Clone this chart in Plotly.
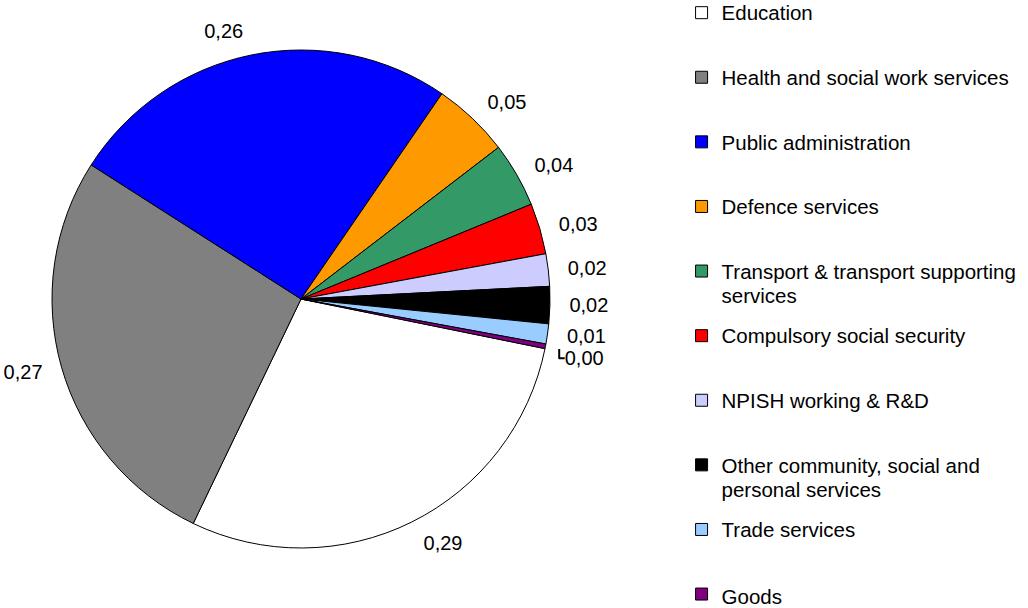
import plotly.graph_objects as go

# ---- data ----
categories = [
    "Education",
    "Health and social work services",
    "Public administration",
    "Defence services",
    "Transport & transport supporting services",
    "Compulsory social security",
    "NPISH working & R&D",
    "Other community, social and personal services",
    "Trade services",
    "Goods",
]
legend_lines = [
    ["Education"],
    ["Health and social work services"],
    ["Public administration"],
    ["Defence services"],
    ["Transport & transport supporting", "services"],
    ["Compulsory social security"],
    ["NPISH working & R&D"],
    ["Other community, social and", "personal services"],
    ["Trade services"],
    ["Goods"],
]
shares = [0.289, 0.269, 0.255, 0.050, 0.042, 0.033, 0.021, 0.024, 0.013, 0.003]
colors = ["#FFFFFF", "#808080", "#0000FF", "#FF9900", "#339966",
          "#FF0000", "#CCCCFF", "#000000", "#99CCFF", "#800080"]

FONT = "Liberation Sans, Arial, sans-serif"
TEXT_PX = 20
LEG_TEXT_PX = 20.5
ROW_PITCH = 64.6                     # distance between legend rows in px
SLOTS = 5                            # legend text slots per row (text on slots 1 and 3)
LEG_FONT = (ROW_PITCH - 3) / (1.3 * SLOTS)   # legend line height = 1.3 * this

W, H = 1028, 608
CX, CY, R = 301, 299, 249   # pie centre / radius in px
R_LAB = R + 14              # invisible ring used to place the outside labels


def dom(r):
    return dict(x=[(CX - r) / W, (CX + r) / W],
                y=[(H - CY - r) / H, (H - CY + r) / H])


def span(t):
    return f'<span style="font-size:{LEG_TEXT_PX}px;baseline-shift:-4px">{t}</span>'


labels = []
for i, lines in enumerate(legend_lines):
    if i == len(legend_lines) - 1:
        slots = [span(lines[0])]
    else:
        slots = [" "] * SLOTS
        for j, l in enumerate(lines):
            slots[2 * j] = span(l)
    labels.append("<br>".join(slots))

fig = go.Figure()
# visible pie
fig.add_trace(
    go.Pie(
        labels=labels,
        values=shares,
        sort=False,
        direction="clockwise",
        rotation=101.5,
        marker=dict(colors=colors, line=dict(color="#000000", width=1)),
        textinfo="none",
        hoverinfo="skip",
        domain=dom(R),
    )
)
# transparent, slightly larger pie carrying the value labels
fig.add_trace(
    go.Pie(
        labels=categories,
        values=shares,
        sort=False,
        direction="clockwise",
        rotation=101.5,
        marker=dict(colors=["rgba(0,0,0,0)"] * len(shares), line=dict(width=0)),
        textposition="outside",
        texttemplate="%{value:.2f}",
        textfont=dict(family=FONT, size=TEXT_PX, color="#000000"),
        showlegend=False,
        hoverinfo="skip",
        domain=dom(R_LAB),
    )
)

fig.update_layout(
    width=W,
    height=H,
    margin=dict(l=0, r=0, t=0, b=0, autoexpand=False),
    paper_bgcolor="white",
    plot_bgcolor="white",
    separators=",.",
    font=dict(family=FONT, color="#000000"),
    showlegend=True,
    legend=dict(
        x=0.663,
        y=1,
        xanchor="left",
        yanchor="top",
        valign="top",
        bgcolor="rgba(0,0,0,0)",
        borderwidth=0,
        font=dict(family=FONT, size=LEG_FONT, color="#000000"),
    ),
)

fig.write_html("out.html", config={"displayModeBar": False, "staticPlot": True})
